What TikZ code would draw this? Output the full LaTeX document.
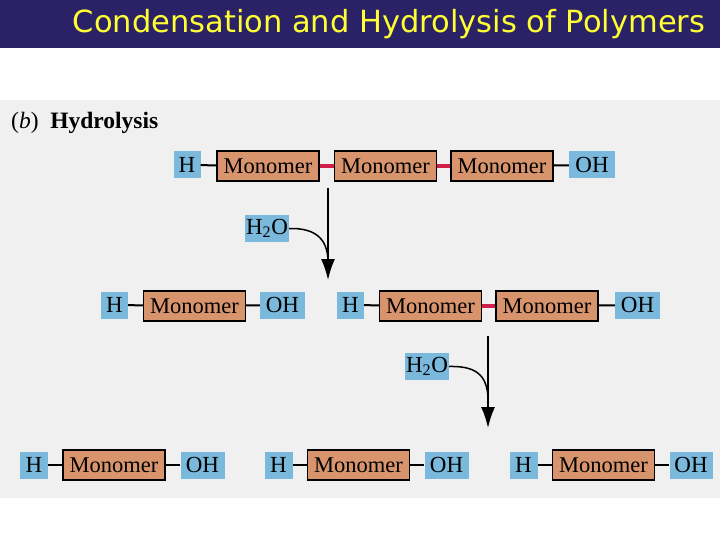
\documentclass[tikz,border=0pt]{standalone}
\usepackage{fontspec}
\setmainfont{Liberation Serif}
\newfontfamily\titlefont{DejaVu Sans}
\usetikzlibrary{arrows.meta}
\definecolor{barblue}{RGB}{42,33,102}
\definecolor{titleyellow}{RGB}{255,255,51}
\definecolor{panelgrey}{RGB}{240,240,240}
\definecolor{hblue}{RGB}{122,184,220}
\definecolor{monofill}{RGB}{216,148,108}
\definecolor{bondred}{RGB}{208,32,74}
\tikzset{
  hbox/.style={fill=hblue, inner sep=0pt, minimum height=27pt, font=\fontsize{23}{23}\selectfont},
  monobox/.style={fill=monofill, draw=black, line width=1.3pt, inner sep=0pt, minimum width=102pt, minimum height=30pt, font=\fontsize{22.5}{22.5}\selectfont},
  bond/.style={line width=2pt, black},
  redbond/.style={line width=3.2pt, bondred},
  hydro/.style={line width=1.8pt, -{Latex[length=21pt,width=14pt]}},
  feed/.style={line width=1.5pt},
}
\begin{document}
\begin{tikzpicture}[x=1pt,y=-1pt]
\useasboundingbox (0,0) rectangle (720,540);
\fill[white] (0,0) rectangle (720,540);
\fill[barblue] (0,0) rectangle (720,48);
\node[text=titleyellow, font=\titlefont\fontsize{30.5}{30.5}\selectfont, anchor=center] (title) at (389,24) {Condensation and Hydrolysis of Polymers};
\fill[panelgrey] (0,100) rectangle (720,498);
\node[anchor=west, font=\fontsize{23.5}{23.5}\selectfont, inner sep=0pt] (lab) at (11,123) {(\textit{b})\ \ \textbf{Hydrolysis}};

% Row 1
\node[hbox, minimum width=27pt] (h1) at (187,165) {H};
\node[monobox] (m11) at (268,166) {Monomer};
\node[monobox] (m12) at (385.5,166) {Monomer};
\node[monobox] (m13) at (502,166) {Monomer};
\node[hbox, minimum width=46pt] (oh1) at (592,165) {OH};
\draw[bond] (h1) -- (m11);
\draw[redbond] (m11) -- (m12);
\draw[redbond] (m12) -- (m13);
\draw[bond] (m13) -- (oh1);

% Arrow 1
\coordinate (a1s) at (328,188);
\coordinate (a1e) at (328,280);
\coordinate (a1j) at (328,262);
\draw[hydro] (a1s) -- (a1e);
\node[hbox, minimum width=44pt] (w1) at (267,228.5) {H\textsubscript{2}O};
\draw[feed] (w1.east) .. controls (312,228) and (328,236) .. (a1j);

% Row 2
\node[hbox, minimum width=27pt] (h21) at (114.5,305) {H};
\node[monobox] (m21) at (194.5,306) {Monomer};
\node[hbox, minimum width=45pt] (oh21) at (282.5,305) {OH};
\draw[bond] (h21) -- (m21);
\draw[bond] (m21) -- (oh21);
\node[hbox, minimum width=27pt] (h22) at (350.5,305) {H};
\node[monobox] (m22) at (430.5,306) {Monomer};
\node[monobox] (m23) at (547,306) {Monomer};
\node[hbox, minimum width=45pt] (oh22) at (637.5,305) {OH};
\draw[bond] (h22) -- (m22);
\draw[redbond] (m22) -- (m23);
\draw[bond] (m23) -- (oh22);

% Arrow 2
\coordinate (a2s) at (488,336);
\coordinate (a2e) at (488,428);
\coordinate (a2j) at (488,400);
\draw[hydro] (a2s) -- (a2e);
\node[hbox, minimum width=44pt] (w2) at (427,366.5) {H\textsubscript{2}O};
\draw[feed] (w2.east) .. controls (472,366) and (488,372) .. (a2j);

% Row 3
\node[hbox, minimum width=28pt] (h31) at (34,465) {H};
\node[monobox] (m31) at (114,465) {Monomer};
\node[hbox, minimum width=44pt] (oh31) at (202.5,465) {OH};
\draw[bond] (h31) -- (m31);
\draw[bond] (m31) -- (oh31);
\node[hbox, minimum width=28pt] (h32) at (278.5,465) {H};
\node[monobox] (m32) at (358.5,465) {Monomer};
\node[hbox, minimum width=44pt] (oh32) at (446.5,465) {OH};
\draw[bond] (h32) -- (m32);
\draw[bond] (m32) -- (oh32);
\node[hbox, minimum width=28pt] (h33) at (523.5,465) {H};
\node[monobox] (m33) at (603.5,465) {Monomer};
\node[hbox, minimum width=43pt] (oh33) at (691,465) {OH};
\draw[bond] (h33) -- (m33);
\draw[bond] (m33) -- (oh33);
\end{tikzpicture}
\end{document}
